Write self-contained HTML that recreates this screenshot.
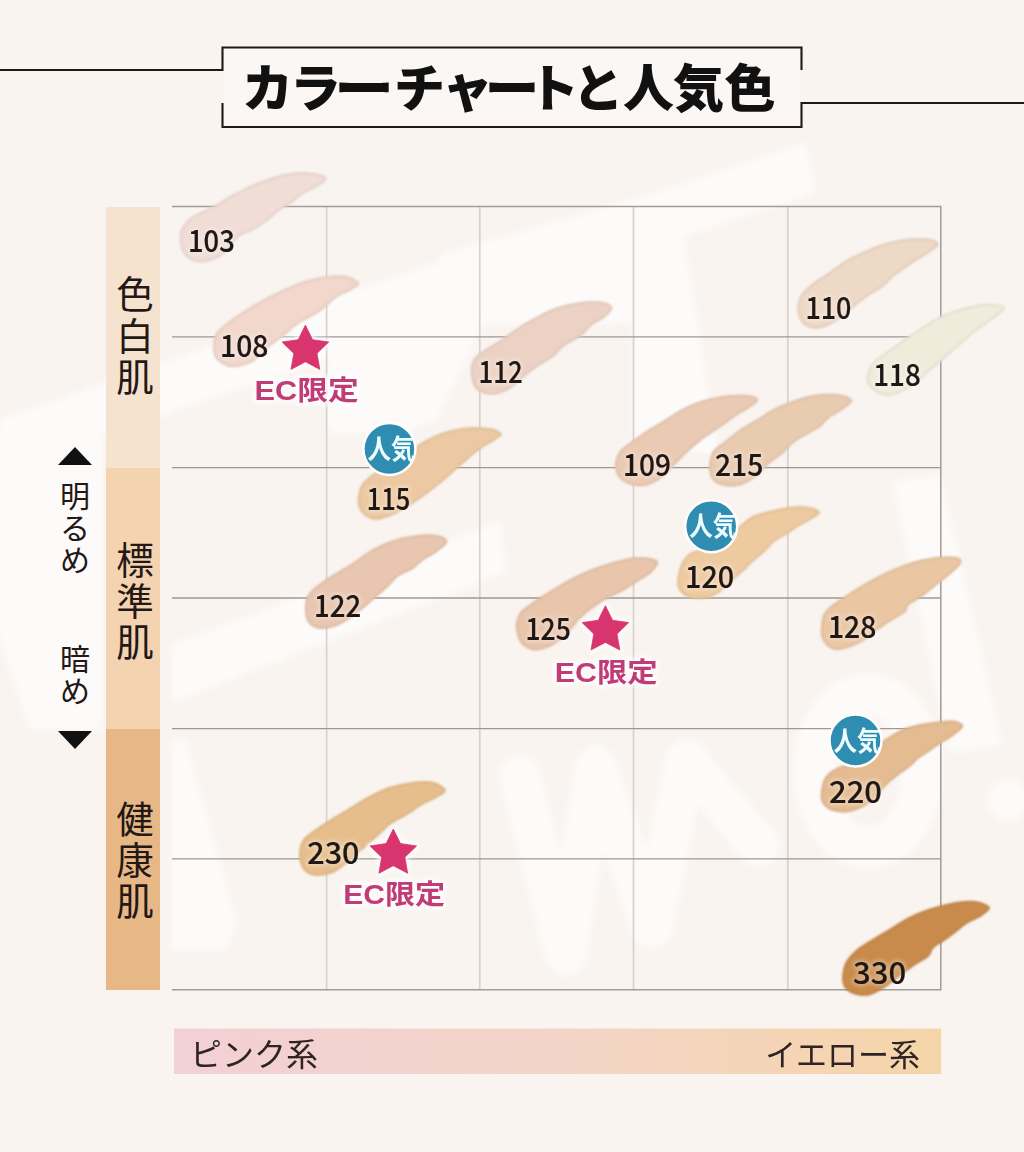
<!DOCTYPE html>
<html><head><meta charset="utf-8"><title>カラーチャートと人気色</title>
<style>
html,body{margin:0;padding:0;background:#f9f4f0;}
body{width:1024px;height:1152px;overflow:hidden;}
svg{display:block;}
text{font-family:'Liberation Sans', 'Noto Sans CJK JP', sans-serif;}
</style></head><body>
<svg width="1024" height="1152" viewBox="0 0 1024 1152">
<defs>
<filter id="soft" x="-10%" y="-10%" width="120%" height="120%"><feGaussianBlur stdDeviation="0.9"/></filter>
<filter id="glow" x="-30%" y="-30%" width="160%" height="160%"><feGaussianBlur stdDeviation="2"/></filter>
<filter id="wm" x="-10%" y="-10%" width="120%" height="120%"><feGaussianBlur stdDeviation="3"/></filter>
<linearGradient id="bar" x1="0" x2="1" y1="0" y2="0">
<stop offset="0" stop-color="#f2d0d5"/><stop offset="0.5" stop-color="#f4d4c8"/><stop offset="1" stop-color="#f5d5a8"/>
</linearGradient>
</defs>
<rect width="1024" height="1152" fill="#f9f4f0"/>

<g fill="none" stroke="#231815" stroke-width="2.1">
<path d="M0,70 H222.5 V47.5 H801.5 V70"/>
<path d="M222.5,103 V127 H801.5 V103 H1024"/>
</g>
<rect x="224" y="49" width="576" height="77" fill="#faf7f4"/>
<g font-size="51" font-weight="900" fill="#111" text-anchor="middle" style="font-family:'Noto Sans CJK JP', sans-serif">
<text x="267.5" y="107">カ</text>
<text x="315.5" y="107">ラ</text>
<text x="0" y="107" transform="translate(364,0) scale(1.17,1)">ー</text>
<text x="419.5" y="107">チ</text>
<text x="467.5" y="107">ャ</text>
<text x="0" y="107" transform="translate(512,0) scale(1.07,1)">ー</text>
<text x="553.5" y="107">ト</text>
<text x="598" y="107">と</text>
<text x="648.5" y="107">人</text>
<text x="698.5" y="107">気</text>
<text x="750" y="107">色</text>
</g>
<g fill="#ffffff" opacity="0.7" filter="url(#wm)">
<path d="M0,420 L805,143 L815,192 L0,470Z"/>
<path d="M633,200 L676,188 L712,420 L718,452 L633,452Z"/>
<path d="M440,255 L633,200 L633,322 L440,325Z"/>
<path d="M328,300 L440,262 L478,250 L480,330 L436,420 L400,432 L328,432Z"/>
<path d="M0,430 L101,400 L101,729 L30,729 L0,640Z"/>
<path d="M172,645 L500,522 L505,572 L172,702Z"/>
<path d="M172,740 L185,740 L237,925 L225,950 L172,950Z"/>
<path d="M893,482 L940,476 L1002,745 L950,752Z"/>
<circle cx="1008" cy="800" r="20"/>
</g>
<g fill="none" stroke="#ffffff" opacity="0.7" stroke-width="40" stroke-linecap="round" stroke-linejoin="round" filter="url(#wm)">
<path d="M520,777 L566,955 L596,767 L652,928 L686,760 L759,846"/>
<ellipse cx="868" cy="771" rx="54" ry="77"/>
</g>
<rect x="106" y="207" width="54" height="261" fill="#f6e3cf"/>
<rect x="106" y="468" width="54" height="261" fill="#f4d3b1"/>
<rect x="106" y="729" width="54" height="261" fill="#e8b786"/>
<g stroke="#d8d2ce" stroke-width="1.7">
<line x1="326.6" y1="206.6" x2="326.6" y2="989.8"/>
<line x1="479.8" y1="206.6" x2="479.8" y2="989.8"/>
<line x1="633.5" y1="206.6" x2="633.5" y2="989.8"/>
<line x1="787.8" y1="206.6" x2="787.8" y2="989.8"/>
</g>
<path d="M172,206.6 H940.8 V989.8 H172" stroke="#a29c98" stroke-width="1.5" fill="none"/>
<g stroke="#9e9894" stroke-width="1.3">
<line x1="172" y1="336.8" x2="940.8" y2="336.8"/>
<line x1="172" y1="467.6" x2="940.8" y2="467.6"/>
<line x1="172" y1="598" x2="940.8" y2="598"/>
<line x1="172" y1="728.6" x2="940.8" y2="728.6"/>
<line x1="172" y1="858.8" x2="940.8" y2="858.8"/>
</g>
<text x="135" y="308.3" text-anchor="middle" font-size="37.5" font-weight="400" fill="#231815" style="font-family:'Noto Sans CJK JP', sans-serif">色</text><text x="135" y="349.5" text-anchor="middle" font-size="37.5" font-weight="400" fill="#231815" style="font-family:'Noto Sans CJK JP', sans-serif">白</text><text x="135" y="390.70000000000005" text-anchor="middle" font-size="37.5" font-weight="400" fill="#231815" style="font-family:'Noto Sans CJK JP', sans-serif">肌</text>
<text x="135" y="573.6" text-anchor="middle" font-size="37.5" font-weight="400" fill="#231815" style="font-family:'Noto Sans CJK JP', sans-serif">標</text><text x="135" y="614.8000000000001" text-anchor="middle" font-size="37.5" font-weight="400" fill="#231815" style="font-family:'Noto Sans CJK JP', sans-serif">準</text><text x="135" y="656.0" text-anchor="middle" font-size="37.5" font-weight="400" fill="#231815" style="font-family:'Noto Sans CJK JP', sans-serif">肌</text>
<text x="135" y="832.6" text-anchor="middle" font-size="37.5" font-weight="400" fill="#231815" style="font-family:'Noto Sans CJK JP', sans-serif">健</text><text x="135" y="873.8000000000001" text-anchor="middle" font-size="37.5" font-weight="400" fill="#231815" style="font-family:'Noto Sans CJK JP', sans-serif">康</text><text x="135" y="915.0" text-anchor="middle" font-size="37.5" font-weight="400" fill="#231815" style="font-family:'Noto Sans CJK JP', sans-serif">肌</text>
<path d="M58,465 L75,447 L92,465Z" fill="#111"/>
<path d="M58,731 L75,749 L92,731Z" fill="#111"/>
<text x="75" y="507" text-anchor="middle" font-size="30" font-weight="400" fill="#231815" style="font-family:'Noto Sans CJK JP', sans-serif">明</text><text x="75" y="539" text-anchor="middle" font-size="30" font-weight="400" fill="#231815" style="font-family:'Noto Sans CJK JP', sans-serif">る</text><text x="75" y="571" text-anchor="middle" font-size="30" font-weight="400" fill="#231815" style="font-family:'Noto Sans CJK JP', sans-serif">め</text>
<text x="75" y="670" text-anchor="middle" font-size="30" font-weight="400" fill="#231815" style="font-family:'Noto Sans CJK JP', sans-serif">暗</text><text x="75" y="702" text-anchor="middle" font-size="30" font-weight="400" fill="#231815" style="font-family:'Noto Sans CJK JP', sans-serif">め</text>
<defs>
<clipPath id="c103"><path d="M179.7,239.1 C179.7,235.0 180.1,230.6 182.3,226.8 C184.5,223.0 187.5,219.7 192.8,216.2 C198.1,212.7 207.5,209.2 213.9,205.7 C220.3,202.2 225.6,198.3 231.5,195.1 C237.4,191.9 243.2,189.0 249.1,186.4 C255.0,183.8 260.8,181.4 266.7,179.3 C272.6,177.2 278.3,175.3 284.2,174.1 C290.1,172.9 295.9,172.3 301.8,172.3 C307.7,172.3 315.3,172.9 319.4,174.1 C323.5,175.3 326.7,177.2 326.4,179.3 C326.1,181.4 321.4,184.1 317.6,186.4 C313.8,188.8 307.7,190.8 303.6,193.4 C299.5,196.0 297.1,199.3 293.0,202.2 C288.9,205.1 283.4,207.8 279.0,211.0 C274.6,214.2 271.1,218.3 266.7,221.5 C262.3,224.7 257.3,227.7 252.6,230.3 C247.9,232.9 243.5,233.2 238.5,237.3 C233.5,241.4 228.3,250.8 222.7,254.9 C217.1,259.0 210.4,261.1 205.1,262.0 C199.8,262.9 194.9,262.0 191.1,260.2 C187.3,258.4 184.2,254.9 182.3,251.4 C180.4,247.9 179.7,243.2 179.7,239.1Z"/></clipPath>
<clipPath id="c108"><path d="M213.2,346.1 C213.5,342.6 213.6,337.6 215.8,333.8 C218.0,330.0 221.7,327.1 226.4,323.3 C231.1,319.5 238.1,314.8 243.9,311.0 C249.8,307.2 255.6,303.6 261.5,300.4 C267.4,297.2 273.2,294.4 279.1,291.6 C285.0,288.8 290.9,285.9 296.7,283.7 C302.5,281.5 308.3,279.8 314.2,278.5 C320.1,277.2 325.9,276.1 331.8,275.8 C337.7,275.5 344.9,275.4 349.4,276.7 C353.9,278.0 358.7,281.5 359.0,283.7 C359.3,285.9 354.8,287.7 351.1,289.9 C347.5,292.1 341.8,293.7 337.1,296.9 C332.4,300.1 327.7,305.7 323.0,309.2 C318.3,312.7 313.4,315.4 309.0,318.0 C304.6,320.6 301.1,321.8 296.7,325.0 C292.3,328.2 287.0,333.8 282.6,337.3 C278.2,340.8 273.8,343.2 270.3,346.1 C266.8,349.0 265.0,352.0 261.5,354.9 C258.0,357.8 254.2,361.6 249.2,363.7 C244.2,365.8 236.6,367.5 231.6,367.2 C226.6,366.9 222.2,363.9 219.3,361.9 C216.4,359.8 215.1,357.5 214.1,354.9 C213.1,352.3 212.9,349.6 213.2,346.1Z"/></clipPath>
<clipPath id="c112"><path d="M470.8,370.8 C470.8,366.1 472.0,362.0 474.3,358.5 C476.6,355.0 480.8,352.7 484.9,349.8 C489.0,346.9 493.6,344.5 498.9,341.0 C504.2,337.5 510.6,332.5 516.5,328.7 C522.4,324.9 528.2,321.3 534.1,318.1 C540.0,314.9 545.9,311.6 551.7,309.3 C557.6,307.0 563.4,305.4 569.2,304.1 C575.1,302.8 580.9,301.7 586.8,301.4 C592.7,301.1 600.1,301.3 604.4,302.3 C608.6,303.3 612.0,305.2 612.3,307.6 C612.6,310.0 609.5,313.5 606.1,316.4 C602.7,319.3 596.2,321.9 592.1,325.1 C588.0,328.3 586.2,332.2 581.5,335.7 C576.8,339.2 568.7,342.7 564.0,346.2 C559.3,349.7 557.5,353.6 553.4,356.8 C549.3,360.0 544.1,362.4 539.4,365.6 C534.7,368.8 529.7,372.6 525.3,376.1 C520.9,379.6 517.4,383.8 513.0,386.7 C508.6,389.6 503.6,392.5 498.9,393.7 C494.2,394.9 489.0,394.9 484.9,393.7 C480.8,392.5 476.6,390.5 474.3,386.7 C472.0,382.9 470.8,375.5 470.8,370.8Z"/></clipPath>
<clipPath id="c110"><path d="M797.3,309.4 C797.0,304.7 798.2,299.7 800.8,295.3 C803.4,290.9 808.4,286.8 813.1,283.0 C817.8,279.2 823.3,276.3 828.9,272.5 C834.5,268.7 840.6,263.6 846.5,260.1 C852.4,256.6 858.2,254.0 864.1,251.4 C870.0,248.8 875.9,246.2 881.7,244.3 C887.6,242.4 893.4,240.9 899.2,239.9 C905.1,238.9 910.9,238.2 916.8,238.2 C922.7,238.2 930.9,238.6 934.4,239.9 C937.9,241.2 939.4,243.6 937.9,246.1 C936.4,248.6 930.0,252.0 925.6,254.9 C921.2,257.8 915.9,260.8 911.5,263.7 C907.1,266.6 902.7,269.9 899.2,272.5 C895.7,275.1 893.0,277.2 890.4,279.5 C887.8,281.8 886.9,283.9 883.4,286.5 C879.9,289.1 874.1,292.1 869.4,295.3 C864.7,298.5 859.7,302.3 855.3,305.8 C850.9,309.3 847.4,313.2 843.0,316.4 C838.6,319.6 833.6,323.1 828.9,325.2 C824.2,327.2 819.3,329.0 814.9,328.7 C810.5,328.4 805.5,326.6 802.6,323.4 C799.7,320.2 797.6,314.1 797.3,309.4Z"/></clipPath>
<clipPath id="c118"><path d="M867.0,375.0 C867.9,371.0 870.4,365.4 873.8,361.4 C877.2,357.4 882.3,354.9 887.4,351.2 C892.5,347.5 898.7,343.3 904.4,339.3 C910.1,335.3 915.7,331.1 921.4,327.4 C927.1,323.7 932.7,320.0 938.4,317.2 C944.1,314.4 949.8,312.2 955.4,310.4 C961.0,308.5 966.6,307.2 972.3,306.1 C977.9,305.0 983.9,303.5 989.3,303.6 C994.7,303.8 1003.2,305.0 1004.6,307.0 C1006.0,309.0 1000.9,312.7 997.8,315.5 C994.7,318.3 990.2,320.9 986.0,324.0 C981.8,327.1 976.8,330.5 972.3,334.2 C967.8,337.9 963.3,342.0 958.8,346.0 C954.3,350.0 949.2,354.6 945.2,358.0 C941.2,361.4 939.0,363.1 935.0,366.5 C931.0,369.9 925.9,374.7 921.4,378.4 C916.9,382.1 912.6,385.8 907.8,388.6 C903.0,391.4 897.3,394.5 892.5,395.4 C887.7,396.2 882.9,395.4 878.9,393.7 C874.9,392.0 870.7,388.3 868.7,385.2 C866.7,382.1 866.1,379.0 867.0,375.0Z"/></clipPath>
<clipPath id="c115"><path d="M357.8,502.5 C357.5,498.3 358.3,492.1 360.0,488.0 C361.7,483.9 363.8,481.7 368.0,478.0 C372.2,474.3 378.8,469.8 385.0,466.0 C391.2,462.2 398.6,459.1 405.0,455.0 C411.4,450.9 416.9,445.4 423.4,441.6 C429.9,437.8 436.4,434.6 443.8,432.2 C451.1,429.8 459.4,428.1 467.2,427.5 C475.0,426.9 484.9,427.3 490.6,428.3 C496.3,429.3 500.8,431.8 501.6,433.8 C502.4,435.7 499.0,437.4 495.3,440.0 C491.6,442.6 485.7,445.0 479.7,449.4 C473.7,453.8 465.4,461.4 459.4,466.6 C453.4,471.8 449.0,476.2 443.8,480.6 C438.5,485.0 434.5,488.3 428.0,493.0 C421.5,497.7 411.4,504.8 404.7,508.8 C398.0,512.8 393.2,515.2 388.0,517.0 C382.8,518.8 377.7,520.4 373.4,519.7 C369.1,519.0 364.6,515.9 362.0,513.0 C359.4,510.1 358.1,506.7 357.8,502.5Z"/></clipPath>
<clipPath id="c109"><path d="M614.9,465.8 C614.9,461.4 616.5,455.9 619.3,451.8 C622.1,447.7 626.6,445.0 631.6,441.2 C636.6,437.4 643.3,432.7 649.2,428.9 C655.1,425.1 660.9,421.9 666.8,418.4 C672.7,414.9 678.5,410.7 684.4,407.8 C690.2,404.9 696.0,402.7 701.9,400.8 C707.8,398.9 713.6,397.4 719.5,396.4 C725.4,395.4 731.8,394.8 737.1,394.7 C742.4,394.6 747.6,394.6 751.1,395.5 C754.6,396.4 758.5,397.8 758.2,399.9 C757.9,401.9 753.2,405.0 749.4,407.8 C745.6,410.6 739.7,413.7 735.3,416.6 C730.9,419.5 726.8,422.8 723.0,425.4 C719.2,428.0 716.3,429.9 712.5,432.5 C708.7,435.1 704.3,438.0 700.2,441.2 C696.1,444.4 692.0,448.0 687.9,451.8 C683.8,455.6 679.7,460.0 675.6,464.1 C671.5,468.2 668.0,472.9 663.3,476.4 C658.6,479.9 652.8,483.7 647.5,485.2 C642.2,486.7 636.3,486.4 631.6,485.2 C626.9,484.0 622.1,481.3 619.3,478.1 C616.5,474.9 614.9,470.2 614.9,465.8Z"/></clipPath>
<clipPath id="c215"><path d="M709.1,467.6 C709.1,462.9 710.0,456.2 712.6,451.8 C715.2,447.4 720.2,445.0 724.9,441.2 C729.6,437.4 735.1,432.7 740.7,428.9 C746.3,425.1 752.4,421.9 758.3,418.4 C764.1,414.9 769.9,410.7 775.8,407.8 C781.6,404.9 787.5,402.9 793.4,400.8 C799.3,398.8 805.1,396.7 811.0,395.5 C816.9,394.3 823.0,393.8 828.6,393.8 C834.2,393.8 840.5,394.3 844.4,395.5 C848.3,396.7 852.6,398.4 852.3,400.8 C852.0,403.2 846.5,406.7 842.6,409.6 C838.7,412.5 832.4,415.5 828.6,418.4 C824.8,421.3 823.3,424.6 819.8,427.2 C816.3,429.8 811.9,431.6 807.5,434.2 C803.1,436.8 797.5,439.8 793.4,443.0 C789.3,446.2 787.0,450.0 782.9,453.5 C778.8,457.0 773.2,460.3 768.8,464.1 C764.4,467.9 761.2,472.9 756.5,476.4 C751.8,479.9 746.0,483.6 740.7,485.2 C735.4,486.8 729.6,486.9 724.9,486.0 C720.2,485.1 715.2,483.0 712.6,479.9 C710.0,476.8 709.1,472.3 709.1,467.6Z"/></clipPath>
<clipPath id="c120"><path d="M677.3,579.4 C677.6,575.3 679.0,569.4 680.8,565.3 C682.5,561.2 684.6,557.5 687.8,554.8 C691.0,552.1 695.4,551.1 700.1,549.0 C704.8,546.9 709.5,545.7 716.0,542.0 C722.5,538.3 732.6,530.9 738.8,526.6 C744.9,522.3 747.6,518.7 752.9,516.1 C758.2,513.5 764.5,512.3 770.4,510.8 C776.2,509.3 782.1,508.0 788.0,507.3 C793.9,506.6 800.9,506.1 805.6,506.4 C810.3,506.7 813.8,507.9 816.1,509.1 C818.5,510.3 820.6,511.8 819.7,513.5 C818.8,515.2 814.4,517.4 810.9,519.6 C807.4,521.8 802.4,524.2 798.6,526.6 C794.8,529.0 791.8,531.4 788.0,533.7 C784.2,536.1 779.5,537.8 775.7,540.7 C771.9,543.6 769.0,547.7 765.2,551.2 C761.4,554.7 756.7,558.3 752.9,561.8 C749.1,565.3 746.1,568.8 742.3,572.3 C738.5,575.8 734.1,579.4 730.0,582.9 C725.9,586.4 722.1,590.8 717.7,593.4 C713.3,596.0 708.7,598.1 703.7,598.7 C698.7,599.3 691.9,598.4 687.8,596.9 C683.7,595.4 680.9,592.8 679.1,589.9 C677.4,587.0 677.0,583.5 677.3,579.4Z"/></clipPath>
<clipPath id="c122"><path d="M304.9,607.6 C304.9,603.2 305.4,599.1 307.6,595.3 C309.8,591.5 313.7,588.3 318.1,584.8 C322.5,581.3 328.3,577.7 333.9,574.2 C339.5,570.7 345.6,567.5 351.5,563.7 C357.4,559.9 363.2,554.9 369.1,551.4 C375.0,547.9 380.9,545.0 386.7,542.6 C392.5,540.2 398.3,538.6 404.2,537.3 C410.1,536.0 415.9,535.0 421.8,534.7 C427.7,534.4 435.1,534.3 439.4,535.5 C443.6,536.7 447.6,539.1 447.3,541.7 C447.0,544.4 441.6,548.3 437.6,551.4 C433.7,554.5 427.7,557.2 423.6,560.1 C419.5,563.0 417.1,566.2 413.0,568.9 C408.9,571.5 403.1,573.1 399.0,576.0 C394.9,578.9 392.5,582.7 388.4,586.5 C384.3,590.3 379.1,594.7 374.4,598.8 C369.7,602.9 364.7,607.6 360.3,611.1 C355.9,614.6 352.4,617.3 348.0,619.9 C343.6,622.5 338.9,625.4 333.9,626.9 C328.9,628.4 322.5,629.6 318.1,628.7 C313.7,627.8 309.8,625.2 307.6,621.7 C305.4,618.2 304.9,612.0 304.9,607.6Z"/></clipPath>
<clipPath id="c125"><path d="M515.8,627.6 C515.5,622.6 516.7,617.6 519.3,613.5 C521.9,609.4 526.9,606.5 531.6,603.0 C536.3,599.5 541.9,596.0 547.5,592.5 C553.1,589.0 559.1,585.1 565.0,581.9 C570.9,578.7 576.7,575.7 582.6,573.1 C588.5,570.5 594.3,568.2 600.2,566.1 C606.1,564.0 611.9,562.3 617.8,560.8 C623.6,559.3 629.8,557.7 635.3,557.3 C640.8,556.9 647.3,557.3 651.1,558.2 C654.9,559.1 658.2,560.1 658.2,562.6 C658.2,565.1 654.6,569.9 651.1,573.1 C647.6,576.3 641.8,579.0 637.1,581.9 C632.4,584.8 627.7,588.1 623.0,590.7 C618.3,593.3 612.8,595.7 609.0,597.7 C605.2,599.8 603.7,600.6 600.2,603.0 C596.7,605.4 592.0,608.3 587.9,611.8 C583.8,615.3 579.1,620.3 575.6,624.1 C572.1,627.9 570.6,631.1 566.8,634.6 C563.0,638.1 558.0,642.6 552.7,645.2 C547.4,647.8 540.4,650.7 535.1,650.4 C529.8,650.1 524.3,647.2 521.1,643.4 C517.9,639.6 516.1,632.6 515.8,627.6Z"/></clipPath>
<clipPath id="c128"><path d="M821.0,627.9 C821.6,622.9 821.1,616.4 826.4,610.3 C831.7,604.1 845.4,596.0 852.7,591.0 C860.0,586.0 864.4,583.6 870.3,580.4 C876.2,577.2 882.0,574.2 887.9,571.6 C893.8,569.0 899.5,566.7 905.4,564.6 C911.2,562.5 917.1,560.6 923.0,559.3 C928.9,558.0 934.7,557.0 940.6,556.7 C946.5,556.4 954.8,556.4 958.2,557.6 C961.6,558.8 962.3,560.8 960.8,563.7 C959.3,566.6 953.9,571.1 949.4,575.1 C944.9,579.1 938.0,584.0 933.6,587.5 C929.2,591.0 927.1,593.3 923.0,596.2 C918.9,599.1 911.9,602.4 909.0,605.0 C906.1,607.6 908.3,609.4 905.4,612.0 C902.5,614.6 896.4,617.6 891.4,620.8 C886.4,624.0 880.6,627.9 875.6,631.4 C870.6,634.9 866.8,639.1 861.5,642.0 C856.2,644.9 849.0,647.8 844.0,649.0 C839.0,650.2 835.1,650.5 831.6,649.0 C828.1,647.5 824.6,643.7 822.8,640.2 C821.0,636.7 820.4,632.9 821.0,627.9Z"/></clipPath>
<clipPath id="c220"><path d="M820.8,792.9 C821.1,788.8 822.2,782.6 824.3,778.8 C826.3,775.0 828.7,772.8 833.1,770.0 C837.5,767.2 844.9,765.2 850.7,762.0 C856.5,758.8 862.4,754.6 868.0,751.0 C873.6,747.4 878.5,743.7 884.1,740.1 C889.7,736.5 895.9,732.2 901.7,729.6 C907.6,727.0 913.4,725.6 919.2,724.3 C925.1,723.0 930.9,722.3 936.8,721.7 C942.7,721.1 950.0,720.1 954.4,720.8 C958.8,721.5 963.2,723.8 963.2,726.1 C963.2,728.5 958.2,732.0 954.4,734.9 C950.6,737.8 944.7,740.8 940.3,743.7 C935.9,746.6 931.8,749.9 928.0,752.5 C924.2,755.1 920.4,757.2 917.5,759.5 C914.6,761.8 913.6,763.9 910.4,766.5 C907.2,769.1 902.2,772.1 898.1,775.3 C894.0,778.5 889.6,782.0 885.8,785.8 C882.0,789.6 879.1,794.6 875.3,798.1 C871.5,801.6 867.7,804.5 863.0,806.9 C858.3,809.2 852.5,811.6 847.2,812.2 C841.9,812.8 835.5,811.9 831.4,810.4 C827.3,808.9 824.4,806.3 822.6,803.4 C820.8,800.5 820.5,797.0 820.8,792.9Z"/></clipPath>
<clipPath id="c230"><path d="M299.1,854.4 C299.1,849.7 300.0,844.4 302.6,840.3 C305.2,836.2 310.2,833.3 314.9,829.8 C319.6,826.3 325.1,822.7 330.7,819.2 C336.3,815.7 342.4,812.2 348.3,808.7 C354.2,805.2 360.0,801.3 365.8,798.1 C371.6,794.9 377.5,791.6 383.4,789.3 C389.3,787.0 395.1,785.4 401.0,784.1 C406.9,782.8 413.0,781.7 418.6,781.4 C424.2,781.1 429.9,780.8 434.4,782.3 C438.9,783.8 445.5,787.6 445.8,790.2 C446.1,792.8 440.1,795.6 436.1,798.1 C432.2,800.6 426.2,802.8 422.1,805.1 C418.0,807.5 415.3,809.9 411.5,812.2 C407.7,814.6 402.7,817.2 399.2,819.2 C395.7,821.2 393.6,822.0 390.4,824.5 C387.2,827.0 383.5,830.8 380.0,834.0 C376.5,837.2 372.9,840.7 369.4,843.8 C365.9,846.9 362.9,849.1 358.8,852.6 C354.7,856.1 349.5,861.4 344.8,864.9 C340.1,868.4 336.0,872.0 330.7,873.7 C325.4,875.5 317.8,876.3 313.1,875.4 C308.4,874.5 304.9,871.9 302.6,868.4 C300.3,864.9 299.1,859.1 299.1,854.4Z"/></clipPath>
<clipPath id="c330"><path d="M842.3,976.1 C842.6,972.0 843.4,966.5 845.8,962.1 C848.1,957.7 852.0,953.6 856.4,949.8 C860.8,946.0 866.6,942.7 872.2,939.2 C877.8,935.7 883.9,932.2 889.8,928.7 C895.6,925.2 901.4,921.2 907.3,918.1 C913.1,915.0 919.0,912.4 924.9,910.2 C930.8,908.0 936.6,906.4 942.5,904.9 C948.4,903.4 954.2,902.0 960.1,901.4 C966.0,900.8 972.6,900.4 977.6,901.4 C982.6,902.4 989.3,905.1 989.9,907.6 C990.5,910.1 984.9,913.8 981.1,916.4 C977.3,919.0 970.9,921.1 967.1,923.4 C963.3,925.7 962.1,927.5 958.3,930.4 C954.5,933.3 948.3,938.1 944.2,941.0 C940.1,943.9 936.3,945.4 933.7,948.0 C931.1,950.6 931.6,953.9 928.4,956.8 C925.2,959.7 919.1,962.4 914.4,965.6 C909.7,968.8 905.0,972.6 900.3,976.1 C895.6,979.6 891.5,983.5 886.2,986.7 C880.9,989.9 874.3,994.2 868.7,995.4 C863.1,996.6 856.9,995.2 852.8,993.7 C848.7,992.2 845.9,989.6 844.1,986.7 C842.4,983.8 842.0,980.2 842.3,976.1Z"/></clipPath>
</defs>
<g filter="url(#soft)">
<path d="M179.7,239.1 C179.7,235.0 180.1,230.6 182.3,226.8 C184.5,223.0 187.5,219.7 192.8,216.2 C198.1,212.7 207.5,209.2 213.9,205.7 C220.3,202.2 225.6,198.3 231.5,195.1 C237.4,191.9 243.2,189.0 249.1,186.4 C255.0,183.8 260.8,181.4 266.7,179.3 C272.6,177.2 278.3,175.3 284.2,174.1 C290.1,172.9 295.9,172.3 301.8,172.3 C307.7,172.3 315.3,172.9 319.4,174.1 C323.5,175.3 326.7,177.2 326.4,179.3 C326.1,181.4 321.4,184.1 317.6,186.4 C313.8,188.8 307.7,190.8 303.6,193.4 C299.5,196.0 297.1,199.3 293.0,202.2 C288.9,205.1 283.4,207.8 279.0,211.0 C274.6,214.2 271.1,218.3 266.7,221.5 C262.3,224.7 257.3,227.7 252.6,230.3 C247.9,232.9 243.5,233.2 238.5,237.3 C233.5,241.4 228.3,250.8 222.7,254.9 C217.1,259.0 210.4,261.1 205.1,262.0 C199.8,262.9 194.9,262.0 191.1,260.2 C187.3,258.4 184.2,254.9 182.3,251.4 C180.4,247.9 179.7,243.2 179.7,239.1Z" fill="#f0ddd6"/>
<path d="M179.7,239.1 C179.7,235.0 180.1,230.6 182.3,226.8 C184.5,223.0 187.5,219.7 192.8,216.2 C198.1,212.7 207.5,209.2 213.9,205.7 C220.3,202.2 225.6,198.3 231.5,195.1 C237.4,191.9 243.2,189.0 249.1,186.4 C255.0,183.8 260.8,181.4 266.7,179.3 C272.6,177.2 278.3,175.3 284.2,174.1 C290.1,172.9 295.9,172.3 301.8,172.3 C307.7,172.3 315.3,172.9 319.4,174.1 C323.5,175.3 326.7,177.2 326.4,179.3 C326.1,181.4 321.4,184.1 317.6,186.4 C313.8,188.8 307.7,190.8 303.6,193.4 C299.5,196.0 297.1,199.3 293.0,202.2 C288.9,205.1 283.4,207.8 279.0,211.0 C274.6,214.2 271.1,218.3 266.7,221.5 C262.3,224.7 257.3,227.7 252.6,230.3 C247.9,232.9 243.5,233.2 238.5,237.3 C233.5,241.4 228.3,250.8 222.7,254.9 C217.1,259.0 210.4,261.1 205.1,262.0 C199.8,262.9 194.9,262.0 191.1,260.2 C187.3,258.4 184.2,254.9 182.3,251.4 C180.4,247.9 179.7,243.2 179.7,239.1Z" fill="none" stroke="#d8c6c0" stroke-width="4" opacity="0.55" clip-path="url(#c103)"/>
<path d="M213.2,346.1 C213.5,342.6 213.6,337.6 215.8,333.8 C218.0,330.0 221.7,327.1 226.4,323.3 C231.1,319.5 238.1,314.8 243.9,311.0 C249.8,307.2 255.6,303.6 261.5,300.4 C267.4,297.2 273.2,294.4 279.1,291.6 C285.0,288.8 290.9,285.9 296.7,283.7 C302.5,281.5 308.3,279.8 314.2,278.5 C320.1,277.2 325.9,276.1 331.8,275.8 C337.7,275.5 344.9,275.4 349.4,276.7 C353.9,278.0 358.7,281.5 359.0,283.7 C359.3,285.9 354.8,287.7 351.1,289.9 C347.5,292.1 341.8,293.7 337.1,296.9 C332.4,300.1 327.7,305.7 323.0,309.2 C318.3,312.7 313.4,315.4 309.0,318.0 C304.6,320.6 301.1,321.8 296.7,325.0 C292.3,328.2 287.0,333.8 282.6,337.3 C278.2,340.8 273.8,343.2 270.3,346.1 C266.8,349.0 265.0,352.0 261.5,354.9 C258.0,357.8 254.2,361.6 249.2,363.7 C244.2,365.8 236.6,367.5 231.6,367.2 C226.6,366.9 222.2,363.9 219.3,361.9 C216.4,359.8 215.1,357.5 214.1,354.9 C213.1,352.3 212.9,349.6 213.2,346.1Z" fill="#f1d7cc"/>
<path d="M213.2,346.1 C213.5,342.6 213.6,337.6 215.8,333.8 C218.0,330.0 221.7,327.1 226.4,323.3 C231.1,319.5 238.1,314.8 243.9,311.0 C249.8,307.2 255.6,303.6 261.5,300.4 C267.4,297.2 273.2,294.4 279.1,291.6 C285.0,288.8 290.9,285.9 296.7,283.7 C302.5,281.5 308.3,279.8 314.2,278.5 C320.1,277.2 325.9,276.1 331.8,275.8 C337.7,275.5 344.9,275.4 349.4,276.7 C353.9,278.0 358.7,281.5 359.0,283.7 C359.3,285.9 354.8,287.7 351.1,289.9 C347.5,292.1 341.8,293.7 337.1,296.9 C332.4,300.1 327.7,305.7 323.0,309.2 C318.3,312.7 313.4,315.4 309.0,318.0 C304.6,320.6 301.1,321.8 296.7,325.0 C292.3,328.2 287.0,333.8 282.6,337.3 C278.2,340.8 273.8,343.2 270.3,346.1 C266.8,349.0 265.0,352.0 261.5,354.9 C258.0,357.8 254.2,361.6 249.2,363.7 C244.2,365.8 236.6,367.5 231.6,367.2 C226.6,366.9 222.2,363.9 219.3,361.9 C216.4,359.8 215.1,357.5 214.1,354.9 C213.1,352.3 212.9,349.6 213.2,346.1Z" fill="none" stroke="#d8c1b7" stroke-width="4" opacity="0.55" clip-path="url(#c108)"/>
<path d="M470.8,370.8 C470.8,366.1 472.0,362.0 474.3,358.5 C476.6,355.0 480.8,352.7 484.9,349.8 C489.0,346.9 493.6,344.5 498.9,341.0 C504.2,337.5 510.6,332.5 516.5,328.7 C522.4,324.9 528.2,321.3 534.1,318.1 C540.0,314.9 545.9,311.6 551.7,309.3 C557.6,307.0 563.4,305.4 569.2,304.1 C575.1,302.8 580.9,301.7 586.8,301.4 C592.7,301.1 600.1,301.3 604.4,302.3 C608.6,303.3 612.0,305.2 612.3,307.6 C612.6,310.0 609.5,313.5 606.1,316.4 C602.7,319.3 596.2,321.9 592.1,325.1 C588.0,328.3 586.2,332.2 581.5,335.7 C576.8,339.2 568.7,342.7 564.0,346.2 C559.3,349.7 557.5,353.6 553.4,356.8 C549.3,360.0 544.1,362.4 539.4,365.6 C534.7,368.8 529.7,372.6 525.3,376.1 C520.9,379.6 517.4,383.8 513.0,386.7 C508.6,389.6 503.6,392.5 498.9,393.7 C494.2,394.9 489.0,394.9 484.9,393.7 C480.8,392.5 476.6,390.5 474.3,386.7 C472.0,382.9 470.8,375.5 470.8,370.8Z" fill="#ecd2c4"/>
<path d="M470.8,370.8 C470.8,366.1 472.0,362.0 474.3,358.5 C476.6,355.0 480.8,352.7 484.9,349.8 C489.0,346.9 493.6,344.5 498.9,341.0 C504.2,337.5 510.6,332.5 516.5,328.7 C522.4,324.9 528.2,321.3 534.1,318.1 C540.0,314.9 545.9,311.6 551.7,309.3 C557.6,307.0 563.4,305.4 569.2,304.1 C575.1,302.8 580.9,301.7 586.8,301.4 C592.7,301.1 600.1,301.3 604.4,302.3 C608.6,303.3 612.0,305.2 612.3,307.6 C612.6,310.0 609.5,313.5 606.1,316.4 C602.7,319.3 596.2,321.9 592.1,325.1 C588.0,328.3 586.2,332.2 581.5,335.7 C576.8,339.2 568.7,342.7 564.0,346.2 C559.3,349.7 557.5,353.6 553.4,356.8 C549.3,360.0 544.1,362.4 539.4,365.6 C534.7,368.8 529.7,372.6 525.3,376.1 C520.9,379.6 517.4,383.8 513.0,386.7 C508.6,389.6 503.6,392.5 498.9,393.7 C494.2,394.9 489.0,394.9 484.9,393.7 C480.8,392.5 476.6,390.5 474.3,386.7 C472.0,382.9 470.8,375.5 470.8,370.8Z" fill="none" stroke="#d4bdb0" stroke-width="4" opacity="0.55" clip-path="url(#c112)"/>
<path d="M797.3,309.4 C797.0,304.7 798.2,299.7 800.8,295.3 C803.4,290.9 808.4,286.8 813.1,283.0 C817.8,279.2 823.3,276.3 828.9,272.5 C834.5,268.7 840.6,263.6 846.5,260.1 C852.4,256.6 858.2,254.0 864.1,251.4 C870.0,248.8 875.9,246.2 881.7,244.3 C887.6,242.4 893.4,240.9 899.2,239.9 C905.1,238.9 910.9,238.2 916.8,238.2 C922.7,238.2 930.9,238.6 934.4,239.9 C937.9,241.2 939.4,243.6 937.9,246.1 C936.4,248.6 930.0,252.0 925.6,254.9 C921.2,257.8 915.9,260.8 911.5,263.7 C907.1,266.6 902.7,269.9 899.2,272.5 C895.7,275.1 893.0,277.2 890.4,279.5 C887.8,281.8 886.9,283.9 883.4,286.5 C879.9,289.1 874.1,292.1 869.4,295.3 C864.7,298.5 859.7,302.3 855.3,305.8 C850.9,309.3 847.4,313.2 843.0,316.4 C838.6,319.6 833.6,323.1 828.9,325.2 C824.2,327.2 819.3,329.0 814.9,328.7 C810.5,328.4 805.5,326.6 802.6,323.4 C799.7,320.2 797.6,314.1 797.3,309.4Z" fill="#eed8c6"/>
<path d="M797.3,309.4 C797.0,304.7 798.2,299.7 800.8,295.3 C803.4,290.9 808.4,286.8 813.1,283.0 C817.8,279.2 823.3,276.3 828.9,272.5 C834.5,268.7 840.6,263.6 846.5,260.1 C852.4,256.6 858.2,254.0 864.1,251.4 C870.0,248.8 875.9,246.2 881.7,244.3 C887.6,242.4 893.4,240.9 899.2,239.9 C905.1,238.9 910.9,238.2 916.8,238.2 C922.7,238.2 930.9,238.6 934.4,239.9 C937.9,241.2 939.4,243.6 937.9,246.1 C936.4,248.6 930.0,252.0 925.6,254.9 C921.2,257.8 915.9,260.8 911.5,263.7 C907.1,266.6 902.7,269.9 899.2,272.5 C895.7,275.1 893.0,277.2 890.4,279.5 C887.8,281.8 886.9,283.9 883.4,286.5 C879.9,289.1 874.1,292.1 869.4,295.3 C864.7,298.5 859.7,302.3 855.3,305.8 C850.9,309.3 847.4,313.2 843.0,316.4 C838.6,319.6 833.6,323.1 828.9,325.2 C824.2,327.2 819.3,329.0 814.9,328.7 C810.5,328.4 805.5,326.6 802.6,323.4 C799.7,320.2 797.6,314.1 797.3,309.4Z" fill="none" stroke="#d6c2b2" stroke-width="4" opacity="0.55" clip-path="url(#c110)"/>
<path d="M867.0,375.0 C867.9,371.0 870.4,365.4 873.8,361.4 C877.2,357.4 882.3,354.9 887.4,351.2 C892.5,347.5 898.7,343.3 904.4,339.3 C910.1,335.3 915.7,331.1 921.4,327.4 C927.1,323.7 932.7,320.0 938.4,317.2 C944.1,314.4 949.8,312.2 955.4,310.4 C961.0,308.5 966.6,307.2 972.3,306.1 C977.9,305.0 983.9,303.5 989.3,303.6 C994.7,303.8 1003.2,305.0 1004.6,307.0 C1006.0,309.0 1000.9,312.7 997.8,315.5 C994.7,318.3 990.2,320.9 986.0,324.0 C981.8,327.1 976.8,330.5 972.3,334.2 C967.8,337.9 963.3,342.0 958.8,346.0 C954.3,350.0 949.2,354.6 945.2,358.0 C941.2,361.4 939.0,363.1 935.0,366.5 C931.0,369.9 925.9,374.7 921.4,378.4 C916.9,382.1 912.6,385.8 907.8,388.6 C903.0,391.4 897.3,394.5 892.5,395.4 C887.7,396.2 882.9,395.4 878.9,393.7 C874.9,392.0 870.7,388.3 868.7,385.2 C866.7,382.1 866.1,379.0 867.0,375.0Z" fill="#f1ebdb"/>
<path d="M867.0,375.0 C867.9,371.0 870.4,365.4 873.8,361.4 C877.2,357.4 882.3,354.9 887.4,351.2 C892.5,347.5 898.7,343.3 904.4,339.3 C910.1,335.3 915.7,331.1 921.4,327.4 C927.1,323.7 932.7,320.0 938.4,317.2 C944.1,314.4 949.8,312.2 955.4,310.4 C961.0,308.5 966.6,307.2 972.3,306.1 C977.9,305.0 983.9,303.5 989.3,303.6 C994.7,303.8 1003.2,305.0 1004.6,307.0 C1006.0,309.0 1000.9,312.7 997.8,315.5 C994.7,318.3 990.2,320.9 986.0,324.0 C981.8,327.1 976.8,330.5 972.3,334.2 C967.8,337.9 963.3,342.0 958.8,346.0 C954.3,350.0 949.2,354.6 945.2,358.0 C941.2,361.4 939.0,363.1 935.0,366.5 C931.0,369.9 925.9,374.7 921.4,378.4 C916.9,382.1 912.6,385.8 907.8,388.6 C903.0,391.4 897.3,394.5 892.5,395.4 C887.7,396.2 882.9,395.4 878.9,393.7 C874.9,392.0 870.7,388.3 868.7,385.2 C866.7,382.1 866.1,379.0 867.0,375.0Z" fill="none" stroke="#d8d3c5" stroke-width="4" opacity="0.55" clip-path="url(#c118)"/>
<path d="M357.8,502.5 C357.5,498.3 358.3,492.1 360.0,488.0 C361.7,483.9 363.8,481.7 368.0,478.0 C372.2,474.3 378.8,469.8 385.0,466.0 C391.2,462.2 398.6,459.1 405.0,455.0 C411.4,450.9 416.9,445.4 423.4,441.6 C429.9,437.8 436.4,434.6 443.8,432.2 C451.1,429.8 459.4,428.1 467.2,427.5 C475.0,426.9 484.9,427.3 490.6,428.3 C496.3,429.3 500.8,431.8 501.6,433.8 C502.4,435.7 499.0,437.4 495.3,440.0 C491.6,442.6 485.7,445.0 479.7,449.4 C473.7,453.8 465.4,461.4 459.4,466.6 C453.4,471.8 449.0,476.2 443.8,480.6 C438.5,485.0 434.5,488.3 428.0,493.0 C421.5,497.7 411.4,504.8 404.7,508.8 C398.0,512.8 393.2,515.2 388.0,517.0 C382.8,518.8 377.7,520.4 373.4,519.7 C369.1,519.0 364.6,515.9 362.0,513.0 C359.4,510.1 358.1,506.7 357.8,502.5Z" fill="#ecc9a2"/>
<path d="M357.8,502.5 C357.5,498.3 358.3,492.1 360.0,488.0 C361.7,483.9 363.8,481.7 368.0,478.0 C372.2,474.3 378.8,469.8 385.0,466.0 C391.2,462.2 398.6,459.1 405.0,455.0 C411.4,450.9 416.9,445.4 423.4,441.6 C429.9,437.8 436.4,434.6 443.8,432.2 C451.1,429.8 459.4,428.1 467.2,427.5 C475.0,426.9 484.9,427.3 490.6,428.3 C496.3,429.3 500.8,431.8 501.6,433.8 C502.4,435.7 499.0,437.4 495.3,440.0 C491.6,442.6 485.7,445.0 479.7,449.4 C473.7,453.8 465.4,461.4 459.4,466.6 C453.4,471.8 449.0,476.2 443.8,480.6 C438.5,485.0 434.5,488.3 428.0,493.0 C421.5,497.7 411.4,504.8 404.7,508.8 C398.0,512.8 393.2,515.2 388.0,517.0 C382.8,518.8 377.7,520.4 373.4,519.7 C369.1,519.0 364.6,515.9 362.0,513.0 C359.4,510.1 358.1,506.7 357.8,502.5Z" fill="none" stroke="#d4b491" stroke-width="4" opacity="0.55" clip-path="url(#c115)"/>
<path d="M614.9,465.8 C614.9,461.4 616.5,455.9 619.3,451.8 C622.1,447.7 626.6,445.0 631.6,441.2 C636.6,437.4 643.3,432.7 649.2,428.9 C655.1,425.1 660.9,421.9 666.8,418.4 C672.7,414.9 678.5,410.7 684.4,407.8 C690.2,404.9 696.0,402.7 701.9,400.8 C707.8,398.9 713.6,397.4 719.5,396.4 C725.4,395.4 731.8,394.8 737.1,394.7 C742.4,394.6 747.6,394.6 751.1,395.5 C754.6,396.4 758.5,397.8 758.2,399.9 C757.9,401.9 753.2,405.0 749.4,407.8 C745.6,410.6 739.7,413.7 735.3,416.6 C730.9,419.5 726.8,422.8 723.0,425.4 C719.2,428.0 716.3,429.9 712.5,432.5 C708.7,435.1 704.3,438.0 700.2,441.2 C696.1,444.4 692.0,448.0 687.9,451.8 C683.8,455.6 679.7,460.0 675.6,464.1 C671.5,468.2 668.0,472.9 663.3,476.4 C658.6,479.9 652.8,483.7 647.5,485.2 C642.2,486.7 636.3,486.4 631.6,485.2 C626.9,484.0 622.1,481.3 619.3,478.1 C616.5,474.9 614.9,470.2 614.9,465.8Z" fill="#ebcab4"/>
<path d="M614.9,465.8 C614.9,461.4 616.5,455.9 619.3,451.8 C622.1,447.7 626.6,445.0 631.6,441.2 C636.6,437.4 643.3,432.7 649.2,428.9 C655.1,425.1 660.9,421.9 666.8,418.4 C672.7,414.9 678.5,410.7 684.4,407.8 C690.2,404.9 696.0,402.7 701.9,400.8 C707.8,398.9 713.6,397.4 719.5,396.4 C725.4,395.4 731.8,394.8 737.1,394.7 C742.4,394.6 747.6,394.6 751.1,395.5 C754.6,396.4 758.5,397.8 758.2,399.9 C757.9,401.9 753.2,405.0 749.4,407.8 C745.6,410.6 739.7,413.7 735.3,416.6 C730.9,419.5 726.8,422.8 723.0,425.4 C719.2,428.0 716.3,429.9 712.5,432.5 C708.7,435.1 704.3,438.0 700.2,441.2 C696.1,444.4 692.0,448.0 687.9,451.8 C683.8,455.6 679.7,460.0 675.6,464.1 C671.5,468.2 668.0,472.9 663.3,476.4 C658.6,479.9 652.8,483.7 647.5,485.2 C642.2,486.7 636.3,486.4 631.6,485.2 C626.9,484.0 622.1,481.3 619.3,478.1 C616.5,474.9 614.9,470.2 614.9,465.8Z" fill="none" stroke="#d3b5a2" stroke-width="4" opacity="0.55" clip-path="url(#c109)"/>
<path d="M709.1,467.6 C709.1,462.9 710.0,456.2 712.6,451.8 C715.2,447.4 720.2,445.0 724.9,441.2 C729.6,437.4 735.1,432.7 740.7,428.9 C746.3,425.1 752.4,421.9 758.3,418.4 C764.1,414.9 769.9,410.7 775.8,407.8 C781.6,404.9 787.5,402.9 793.4,400.8 C799.3,398.8 805.1,396.7 811.0,395.5 C816.9,394.3 823.0,393.8 828.6,393.8 C834.2,393.8 840.5,394.3 844.4,395.5 C848.3,396.7 852.6,398.4 852.3,400.8 C852.0,403.2 846.5,406.7 842.6,409.6 C838.7,412.5 832.4,415.5 828.6,418.4 C824.8,421.3 823.3,424.6 819.8,427.2 C816.3,429.8 811.9,431.6 807.5,434.2 C803.1,436.8 797.5,439.8 793.4,443.0 C789.3,446.2 787.0,450.0 782.9,453.5 C778.8,457.0 773.2,460.3 768.8,464.1 C764.4,467.9 761.2,472.9 756.5,476.4 C751.8,479.9 746.0,483.6 740.7,485.2 C735.4,486.8 729.6,486.9 724.9,486.0 C720.2,485.1 715.2,483.0 712.6,479.9 C710.0,476.8 709.1,472.3 709.1,467.6Z" fill="#e9cbb0"/>
<path d="M709.1,467.6 C709.1,462.9 710.0,456.2 712.6,451.8 C715.2,447.4 720.2,445.0 724.9,441.2 C729.6,437.4 735.1,432.7 740.7,428.9 C746.3,425.1 752.4,421.9 758.3,418.4 C764.1,414.9 769.9,410.7 775.8,407.8 C781.6,404.9 787.5,402.9 793.4,400.8 C799.3,398.8 805.1,396.7 811.0,395.5 C816.9,394.3 823.0,393.8 828.6,393.8 C834.2,393.8 840.5,394.3 844.4,395.5 C848.3,396.7 852.6,398.4 852.3,400.8 C852.0,403.2 846.5,406.7 842.6,409.6 C838.7,412.5 832.4,415.5 828.6,418.4 C824.8,421.3 823.3,424.6 819.8,427.2 C816.3,429.8 811.9,431.6 807.5,434.2 C803.1,436.8 797.5,439.8 793.4,443.0 C789.3,446.2 787.0,450.0 782.9,453.5 C778.8,457.0 773.2,460.3 768.8,464.1 C764.4,467.9 761.2,472.9 756.5,476.4 C751.8,479.9 746.0,483.6 740.7,485.2 C735.4,486.8 729.6,486.9 724.9,486.0 C720.2,485.1 715.2,483.0 712.6,479.9 C710.0,476.8 709.1,472.3 709.1,467.6Z" fill="none" stroke="#d1b69e" stroke-width="4" opacity="0.55" clip-path="url(#c215)"/>
<path d="M677.3,579.4 C677.6,575.3 679.0,569.4 680.8,565.3 C682.5,561.2 684.6,557.5 687.8,554.8 C691.0,552.1 695.4,551.1 700.1,549.0 C704.8,546.9 709.5,545.7 716.0,542.0 C722.5,538.3 732.6,530.9 738.8,526.6 C744.9,522.3 747.6,518.7 752.9,516.1 C758.2,513.5 764.5,512.3 770.4,510.8 C776.2,509.3 782.1,508.0 788.0,507.3 C793.9,506.6 800.9,506.1 805.6,506.4 C810.3,506.7 813.8,507.9 816.1,509.1 C818.5,510.3 820.6,511.8 819.7,513.5 C818.8,515.2 814.4,517.4 810.9,519.6 C807.4,521.8 802.4,524.2 798.6,526.6 C794.8,529.0 791.8,531.4 788.0,533.7 C784.2,536.1 779.5,537.8 775.7,540.7 C771.9,543.6 769.0,547.7 765.2,551.2 C761.4,554.7 756.7,558.3 752.9,561.8 C749.1,565.3 746.1,568.8 742.3,572.3 C738.5,575.8 734.1,579.4 730.0,582.9 C725.9,586.4 722.1,590.8 717.7,593.4 C713.3,596.0 708.7,598.1 703.7,598.7 C698.7,599.3 691.9,598.4 687.8,596.9 C683.7,595.4 680.9,592.8 679.1,589.9 C677.4,587.0 677.0,583.5 677.3,579.4Z" fill="#eecaa0"/>
<path d="M677.3,579.4 C677.6,575.3 679.0,569.4 680.8,565.3 C682.5,561.2 684.6,557.5 687.8,554.8 C691.0,552.1 695.4,551.1 700.1,549.0 C704.8,546.9 709.5,545.7 716.0,542.0 C722.5,538.3 732.6,530.9 738.8,526.6 C744.9,522.3 747.6,518.7 752.9,516.1 C758.2,513.5 764.5,512.3 770.4,510.8 C776.2,509.3 782.1,508.0 788.0,507.3 C793.9,506.6 800.9,506.1 805.6,506.4 C810.3,506.7 813.8,507.9 816.1,509.1 C818.5,510.3 820.6,511.8 819.7,513.5 C818.8,515.2 814.4,517.4 810.9,519.6 C807.4,521.8 802.4,524.2 798.6,526.6 C794.8,529.0 791.8,531.4 788.0,533.7 C784.2,536.1 779.5,537.8 775.7,540.7 C771.9,543.6 769.0,547.7 765.2,551.2 C761.4,554.7 756.7,558.3 752.9,561.8 C749.1,565.3 746.1,568.8 742.3,572.3 C738.5,575.8 734.1,579.4 730.0,582.9 C725.9,586.4 722.1,590.8 717.7,593.4 C713.3,596.0 708.7,598.1 703.7,598.7 C698.7,599.3 691.9,598.4 687.8,596.9 C683.7,595.4 680.9,592.8 679.1,589.9 C677.4,587.0 677.0,583.5 677.3,579.4Z" fill="none" stroke="#d6b590" stroke-width="4" opacity="0.55" clip-path="url(#c120)"/>
<path d="M304.9,607.6 C304.9,603.2 305.4,599.1 307.6,595.3 C309.8,591.5 313.7,588.3 318.1,584.8 C322.5,581.3 328.3,577.7 333.9,574.2 C339.5,570.7 345.6,567.5 351.5,563.7 C357.4,559.9 363.2,554.9 369.1,551.4 C375.0,547.9 380.9,545.0 386.7,542.6 C392.5,540.2 398.3,538.6 404.2,537.3 C410.1,536.0 415.9,535.0 421.8,534.7 C427.7,534.4 435.1,534.3 439.4,535.5 C443.6,536.7 447.6,539.1 447.3,541.7 C447.0,544.4 441.6,548.3 437.6,551.4 C433.7,554.5 427.7,557.2 423.6,560.1 C419.5,563.0 417.1,566.2 413.0,568.9 C408.9,571.5 403.1,573.1 399.0,576.0 C394.9,578.9 392.5,582.7 388.4,586.5 C384.3,590.3 379.1,594.7 374.4,598.8 C369.7,602.9 364.7,607.6 360.3,611.1 C355.9,614.6 352.4,617.3 348.0,619.9 C343.6,622.5 338.9,625.4 333.9,626.9 C328.9,628.4 322.5,629.6 318.1,628.7 C313.7,627.8 309.8,625.2 307.6,621.7 C305.4,618.2 304.9,612.0 304.9,607.6Z" fill="#e9c6af"/>
<path d="M304.9,607.6 C304.9,603.2 305.4,599.1 307.6,595.3 C309.8,591.5 313.7,588.3 318.1,584.8 C322.5,581.3 328.3,577.7 333.9,574.2 C339.5,570.7 345.6,567.5 351.5,563.7 C357.4,559.9 363.2,554.9 369.1,551.4 C375.0,547.9 380.9,545.0 386.7,542.6 C392.5,540.2 398.3,538.6 404.2,537.3 C410.1,536.0 415.9,535.0 421.8,534.7 C427.7,534.4 435.1,534.3 439.4,535.5 C443.6,536.7 447.6,539.1 447.3,541.7 C447.0,544.4 441.6,548.3 437.6,551.4 C433.7,554.5 427.7,557.2 423.6,560.1 C419.5,563.0 417.1,566.2 413.0,568.9 C408.9,571.5 403.1,573.1 399.0,576.0 C394.9,578.9 392.5,582.7 388.4,586.5 C384.3,590.3 379.1,594.7 374.4,598.8 C369.7,602.9 364.7,607.6 360.3,611.1 C355.9,614.6 352.4,617.3 348.0,619.9 C343.6,622.5 338.9,625.4 333.9,626.9 C328.9,628.4 322.5,629.6 318.1,628.7 C313.7,627.8 309.8,625.2 307.6,621.7 C305.4,618.2 304.9,612.0 304.9,607.6Z" fill="none" stroke="#d1b29d" stroke-width="4" opacity="0.55" clip-path="url(#c122)"/>
<path d="M515.8,627.6 C515.5,622.6 516.7,617.6 519.3,613.5 C521.9,609.4 526.9,606.5 531.6,603.0 C536.3,599.5 541.9,596.0 547.5,592.5 C553.1,589.0 559.1,585.1 565.0,581.9 C570.9,578.7 576.7,575.7 582.6,573.1 C588.5,570.5 594.3,568.2 600.2,566.1 C606.1,564.0 611.9,562.3 617.8,560.8 C623.6,559.3 629.8,557.7 635.3,557.3 C640.8,556.9 647.3,557.3 651.1,558.2 C654.9,559.1 658.2,560.1 658.2,562.6 C658.2,565.1 654.6,569.9 651.1,573.1 C647.6,576.3 641.8,579.0 637.1,581.9 C632.4,584.8 627.7,588.1 623.0,590.7 C618.3,593.3 612.8,595.7 609.0,597.7 C605.2,599.8 603.7,600.6 600.2,603.0 C596.7,605.4 592.0,608.3 587.9,611.8 C583.8,615.3 579.1,620.3 575.6,624.1 C572.1,627.9 570.6,631.1 566.8,634.6 C563.0,638.1 558.0,642.6 552.7,645.2 C547.4,647.8 540.4,650.7 535.1,650.4 C529.8,650.1 524.3,647.2 521.1,643.4 C517.9,639.6 516.1,632.6 515.8,627.6Z" fill="#e8c5ab"/>
<path d="M515.8,627.6 C515.5,622.6 516.7,617.6 519.3,613.5 C521.9,609.4 526.9,606.5 531.6,603.0 C536.3,599.5 541.9,596.0 547.5,592.5 C553.1,589.0 559.1,585.1 565.0,581.9 C570.9,578.7 576.7,575.7 582.6,573.1 C588.5,570.5 594.3,568.2 600.2,566.1 C606.1,564.0 611.9,562.3 617.8,560.8 C623.6,559.3 629.8,557.7 635.3,557.3 C640.8,556.9 647.3,557.3 651.1,558.2 C654.9,559.1 658.2,560.1 658.2,562.6 C658.2,565.1 654.6,569.9 651.1,573.1 C647.6,576.3 641.8,579.0 637.1,581.9 C632.4,584.8 627.7,588.1 623.0,590.7 C618.3,593.3 612.8,595.7 609.0,597.7 C605.2,599.8 603.7,600.6 600.2,603.0 C596.7,605.4 592.0,608.3 587.9,611.8 C583.8,615.3 579.1,620.3 575.6,624.1 C572.1,627.9 570.6,631.1 566.8,634.6 C563.0,638.1 558.0,642.6 552.7,645.2 C547.4,647.8 540.4,650.7 535.1,650.4 C529.8,650.1 524.3,647.2 521.1,643.4 C517.9,639.6 516.1,632.6 515.8,627.6Z" fill="none" stroke="#d0b199" stroke-width="4" opacity="0.55" clip-path="url(#c125)"/>
<path d="M821.0,627.9 C821.6,622.9 821.1,616.4 826.4,610.3 C831.7,604.1 845.4,596.0 852.7,591.0 C860.0,586.0 864.4,583.6 870.3,580.4 C876.2,577.2 882.0,574.2 887.9,571.6 C893.8,569.0 899.5,566.7 905.4,564.6 C911.2,562.5 917.1,560.6 923.0,559.3 C928.9,558.0 934.7,557.0 940.6,556.7 C946.5,556.4 954.8,556.4 958.2,557.6 C961.6,558.8 962.3,560.8 960.8,563.7 C959.3,566.6 953.9,571.1 949.4,575.1 C944.9,579.1 938.0,584.0 933.6,587.5 C929.2,591.0 927.1,593.3 923.0,596.2 C918.9,599.1 911.9,602.4 909.0,605.0 C906.1,607.6 908.3,609.4 905.4,612.0 C902.5,614.6 896.4,617.6 891.4,620.8 C886.4,624.0 880.6,627.9 875.6,631.4 C870.6,634.9 866.8,639.1 861.5,642.0 C856.2,644.9 849.0,647.8 844.0,649.0 C839.0,650.2 835.1,650.5 831.6,649.0 C828.1,647.5 824.6,643.7 822.8,640.2 C821.0,636.7 820.4,632.9 821.0,627.9Z" fill="#eac6a3"/>
<path d="M821.0,627.9 C821.6,622.9 821.1,616.4 826.4,610.3 C831.7,604.1 845.4,596.0 852.7,591.0 C860.0,586.0 864.4,583.6 870.3,580.4 C876.2,577.2 882.0,574.2 887.9,571.6 C893.8,569.0 899.5,566.7 905.4,564.6 C911.2,562.5 917.1,560.6 923.0,559.3 C928.9,558.0 934.7,557.0 940.6,556.7 C946.5,556.4 954.8,556.4 958.2,557.6 C961.6,558.8 962.3,560.8 960.8,563.7 C959.3,566.6 953.9,571.1 949.4,575.1 C944.9,579.1 938.0,584.0 933.6,587.5 C929.2,591.0 927.1,593.3 923.0,596.2 C918.9,599.1 911.9,602.4 909.0,605.0 C906.1,607.6 908.3,609.4 905.4,612.0 C902.5,614.6 896.4,617.6 891.4,620.8 C886.4,624.0 880.6,627.9 875.6,631.4 C870.6,634.9 866.8,639.1 861.5,642.0 C856.2,644.9 849.0,647.8 844.0,649.0 C839.0,650.2 835.1,650.5 831.6,649.0 C828.1,647.5 824.6,643.7 822.8,640.2 C821.0,636.7 820.4,632.9 821.0,627.9Z" fill="none" stroke="#d2b292" stroke-width="4" opacity="0.55" clip-path="url(#c128)"/>
<path d="M820.8,792.9 C821.1,788.8 822.2,782.6 824.3,778.8 C826.3,775.0 828.7,772.8 833.1,770.0 C837.5,767.2 844.9,765.2 850.7,762.0 C856.5,758.8 862.4,754.6 868.0,751.0 C873.6,747.4 878.5,743.7 884.1,740.1 C889.7,736.5 895.9,732.2 901.7,729.6 C907.6,727.0 913.4,725.6 919.2,724.3 C925.1,723.0 930.9,722.3 936.8,721.7 C942.7,721.1 950.0,720.1 954.4,720.8 C958.8,721.5 963.2,723.8 963.2,726.1 C963.2,728.5 958.2,732.0 954.4,734.9 C950.6,737.8 944.7,740.8 940.3,743.7 C935.9,746.6 931.8,749.9 928.0,752.5 C924.2,755.1 920.4,757.2 917.5,759.5 C914.6,761.8 913.6,763.9 910.4,766.5 C907.2,769.1 902.2,772.1 898.1,775.3 C894.0,778.5 889.6,782.0 885.8,785.8 C882.0,789.6 879.1,794.6 875.3,798.1 C871.5,801.6 867.7,804.5 863.0,806.9 C858.3,809.2 852.5,811.6 847.2,812.2 C841.9,812.8 835.5,811.9 831.4,810.4 C827.3,808.9 824.4,806.3 822.6,803.4 C820.8,800.5 820.5,797.0 820.8,792.9Z" fill="#e5bb91"/>
<path d="M820.8,792.9 C821.1,788.8 822.2,782.6 824.3,778.8 C826.3,775.0 828.7,772.8 833.1,770.0 C837.5,767.2 844.9,765.2 850.7,762.0 C856.5,758.8 862.4,754.6 868.0,751.0 C873.6,747.4 878.5,743.7 884.1,740.1 C889.7,736.5 895.9,732.2 901.7,729.6 C907.6,727.0 913.4,725.6 919.2,724.3 C925.1,723.0 930.9,722.3 936.8,721.7 C942.7,721.1 950.0,720.1 954.4,720.8 C958.8,721.5 963.2,723.8 963.2,726.1 C963.2,728.5 958.2,732.0 954.4,734.9 C950.6,737.8 944.7,740.8 940.3,743.7 C935.9,746.6 931.8,749.9 928.0,752.5 C924.2,755.1 920.4,757.2 917.5,759.5 C914.6,761.8 913.6,763.9 910.4,766.5 C907.2,769.1 902.2,772.1 898.1,775.3 C894.0,778.5 889.6,782.0 885.8,785.8 C882.0,789.6 879.1,794.6 875.3,798.1 C871.5,801.6 867.7,804.5 863.0,806.9 C858.3,809.2 852.5,811.6 847.2,812.2 C841.9,812.8 835.5,811.9 831.4,810.4 C827.3,808.9 824.4,806.3 822.6,803.4 C820.8,800.5 820.5,797.0 820.8,792.9Z" fill="none" stroke="#cea882" stroke-width="4" opacity="0.55" clip-path="url(#c220)"/>
<path d="M299.1,854.4 C299.1,849.7 300.0,844.4 302.6,840.3 C305.2,836.2 310.2,833.3 314.9,829.8 C319.6,826.3 325.1,822.7 330.7,819.2 C336.3,815.7 342.4,812.2 348.3,808.7 C354.2,805.2 360.0,801.3 365.8,798.1 C371.6,794.9 377.5,791.6 383.4,789.3 C389.3,787.0 395.1,785.4 401.0,784.1 C406.9,782.8 413.0,781.7 418.6,781.4 C424.2,781.1 429.9,780.8 434.4,782.3 C438.9,783.8 445.5,787.6 445.8,790.2 C446.1,792.8 440.1,795.6 436.1,798.1 C432.2,800.6 426.2,802.8 422.1,805.1 C418.0,807.5 415.3,809.9 411.5,812.2 C407.7,814.6 402.7,817.2 399.2,819.2 C395.7,821.2 393.6,822.0 390.4,824.5 C387.2,827.0 383.5,830.8 380.0,834.0 C376.5,837.2 372.9,840.7 369.4,843.8 C365.9,846.9 362.9,849.1 358.8,852.6 C354.7,856.1 349.5,861.4 344.8,864.9 C340.1,868.4 336.0,872.0 330.7,873.7 C325.4,875.5 317.8,876.3 313.1,875.4 C308.4,874.5 304.9,871.9 302.6,868.4 C300.3,864.9 299.1,859.1 299.1,854.4Z" fill="#e6be8c"/>
<path d="M299.1,854.4 C299.1,849.7 300.0,844.4 302.6,840.3 C305.2,836.2 310.2,833.3 314.9,829.8 C319.6,826.3 325.1,822.7 330.7,819.2 C336.3,815.7 342.4,812.2 348.3,808.7 C354.2,805.2 360.0,801.3 365.8,798.1 C371.6,794.9 377.5,791.6 383.4,789.3 C389.3,787.0 395.1,785.4 401.0,784.1 C406.9,782.8 413.0,781.7 418.6,781.4 C424.2,781.1 429.9,780.8 434.4,782.3 C438.9,783.8 445.5,787.6 445.8,790.2 C446.1,792.8 440.1,795.6 436.1,798.1 C432.2,800.6 426.2,802.8 422.1,805.1 C418.0,807.5 415.3,809.9 411.5,812.2 C407.7,814.6 402.7,817.2 399.2,819.2 C395.7,821.2 393.6,822.0 390.4,824.5 C387.2,827.0 383.5,830.8 380.0,834.0 C376.5,837.2 372.9,840.7 369.4,843.8 C365.9,846.9 362.9,849.1 358.8,852.6 C354.7,856.1 349.5,861.4 344.8,864.9 C340.1,868.4 336.0,872.0 330.7,873.7 C325.4,875.5 317.8,876.3 313.1,875.4 C308.4,874.5 304.9,871.9 302.6,868.4 C300.3,864.9 299.1,859.1 299.1,854.4Z" fill="none" stroke="#cfab7e" stroke-width="4" opacity="0.55" clip-path="url(#c230)"/>
<path d="M842.3,976.1 C842.6,972.0 843.4,966.5 845.8,962.1 C848.1,957.7 852.0,953.6 856.4,949.8 C860.8,946.0 866.6,942.7 872.2,939.2 C877.8,935.7 883.9,932.2 889.8,928.7 C895.6,925.2 901.4,921.2 907.3,918.1 C913.1,915.0 919.0,912.4 924.9,910.2 C930.8,908.0 936.6,906.4 942.5,904.9 C948.4,903.4 954.2,902.0 960.1,901.4 C966.0,900.8 972.6,900.4 977.6,901.4 C982.6,902.4 989.3,905.1 989.9,907.6 C990.5,910.1 984.9,913.8 981.1,916.4 C977.3,919.0 970.9,921.1 967.1,923.4 C963.3,925.7 962.1,927.5 958.3,930.4 C954.5,933.3 948.3,938.1 944.2,941.0 C940.1,943.9 936.3,945.4 933.7,948.0 C931.1,950.6 931.6,953.9 928.4,956.8 C925.2,959.7 919.1,962.4 914.4,965.6 C909.7,968.8 905.0,972.6 900.3,976.1 C895.6,979.6 891.5,983.5 886.2,986.7 C880.9,989.9 874.3,994.2 868.7,995.4 C863.1,996.6 856.9,995.2 852.8,993.7 C848.7,992.2 845.9,989.6 844.1,986.7 C842.4,983.8 842.0,980.2 842.3,976.1Z" fill="#c98b4b"/>
<path d="M842.3,976.1 C842.6,972.0 843.4,966.5 845.8,962.1 C848.1,957.7 852.0,953.6 856.4,949.8 C860.8,946.0 866.6,942.7 872.2,939.2 C877.8,935.7 883.9,932.2 889.8,928.7 C895.6,925.2 901.4,921.2 907.3,918.1 C913.1,915.0 919.0,912.4 924.9,910.2 C930.8,908.0 936.6,906.4 942.5,904.9 C948.4,903.4 954.2,902.0 960.1,901.4 C966.0,900.8 972.6,900.4 977.6,901.4 C982.6,902.4 989.3,905.1 989.9,907.6 C990.5,910.1 984.9,913.8 981.1,916.4 C977.3,919.0 970.9,921.1 967.1,923.4 C963.3,925.7 962.1,927.5 958.3,930.4 C954.5,933.3 948.3,938.1 944.2,941.0 C940.1,943.9 936.3,945.4 933.7,948.0 C931.1,950.6 931.6,953.9 928.4,956.8 C925.2,959.7 919.1,962.4 914.4,965.6 C909.7,968.8 905.0,972.6 900.3,976.1 C895.6,979.6 891.5,983.5 886.2,986.7 C880.9,989.9 874.3,994.2 868.7,995.4 C863.1,996.6 856.9,995.2 852.8,993.7 C848.7,992.2 845.9,989.6 844.1,986.7 C842.4,983.8 842.0,980.2 842.3,976.1Z" fill="none" stroke="#b47d43" stroke-width="4" opacity="0.55" clip-path="url(#c330)"/>
</g>
<text x="188.0" y="252.2" font-size="30.5" font-weight="500" stroke="#ffffff" stroke-width="4" stroke-linejoin="round" opacity="0.35" filter="url(#glow)" textLength="46.8" lengthAdjust="spacingAndGlyphs" fill="#ffffff" style="font-family:'Noto Sans CJK JP', sans-serif">103</text>
<text x="188.0" y="252.2" font-size="30.5" font-weight="500" stroke="#1e1714" stroke-width="0.2" textLength="46.8" lengthAdjust="spacingAndGlyphs" fill="#1e1714" style="font-family:'Noto Sans CJK JP', sans-serif">103</text>
<text x="220.0" y="356.6" font-size="30.5" font-weight="500" stroke="#ffffff" stroke-width="4" stroke-linejoin="round" opacity="0.35" filter="url(#glow)" textLength="48.4" lengthAdjust="spacingAndGlyphs" fill="#ffffff" style="font-family:'Noto Sans CJK JP', sans-serif">108</text>
<text x="220.0" y="356.6" font-size="30.5" font-weight="500" stroke="#1e1714" stroke-width="0.2" textLength="48.4" lengthAdjust="spacingAndGlyphs" fill="#1e1714" style="font-family:'Noto Sans CJK JP', sans-serif">108</text>
<text x="478.6" y="383.3" font-size="30.5" font-weight="500" stroke="#ffffff" stroke-width="4" stroke-linejoin="round" opacity="0.35" filter="url(#glow)" textLength="44.1" lengthAdjust="spacingAndGlyphs" fill="#ffffff" style="font-family:'Noto Sans CJK JP', sans-serif">112</text>
<text x="478.6" y="383.3" font-size="30.5" font-weight="500" stroke="#1e1714" stroke-width="0.2" textLength="44.1" lengthAdjust="spacingAndGlyphs" fill="#1e1714" style="font-family:'Noto Sans CJK JP', sans-serif">112</text>
<text x="805.4" y="318.5" font-size="30.5" font-weight="500" stroke="#ffffff" stroke-width="4" stroke-linejoin="round" opacity="0.35" filter="url(#glow)" textLength="46.1" lengthAdjust="spacingAndGlyphs" fill="#ffffff" style="font-family:'Noto Sans CJK JP', sans-serif">110</text>
<text x="805.4" y="318.5" font-size="30.5" font-weight="500" stroke="#1e1714" stroke-width="0.2" textLength="46.1" lengthAdjust="spacingAndGlyphs" fill="#1e1714" style="font-family:'Noto Sans CJK JP', sans-serif">110</text>
<text x="873.3" y="386.4" font-size="30.5" font-weight="500" stroke="#ffffff" stroke-width="4" stroke-linejoin="round" opacity="0.35" filter="url(#glow)" textLength="47.4" lengthAdjust="spacingAndGlyphs" fill="#ffffff" style="font-family:'Noto Sans CJK JP', sans-serif">118</text>
<text x="873.3" y="386.4" font-size="30.5" font-weight="500" stroke="#1e1714" stroke-width="0.2" textLength="47.4" lengthAdjust="spacingAndGlyphs" fill="#1e1714" style="font-family:'Noto Sans CJK JP', sans-serif">118</text>
<text x="366.8" y="509.6" font-size="30.5" font-weight="500" stroke="#ffffff" stroke-width="4" stroke-linejoin="round" opacity="0.35" filter="url(#glow)" textLength="43.6" lengthAdjust="spacingAndGlyphs" fill="#ffffff" style="font-family:'Noto Sans CJK JP', sans-serif">115</text>
<text x="366.8" y="509.6" font-size="30.5" font-weight="500" stroke="#1e1714" stroke-width="0.2" textLength="43.6" lengthAdjust="spacingAndGlyphs" fill="#1e1714" style="font-family:'Noto Sans CJK JP', sans-serif">115</text>
<text x="623.0" y="475.8" font-size="30.5" font-weight="500" stroke="#ffffff" stroke-width="4" stroke-linejoin="round" opacity="0.35" filter="url(#glow)" textLength="48.0" lengthAdjust="spacingAndGlyphs" fill="#ffffff" style="font-family:'Noto Sans CJK JP', sans-serif">109</text>
<text x="623.0" y="475.8" font-size="30.5" font-weight="500" stroke="#1e1714" stroke-width="0.2" textLength="48.0" lengthAdjust="spacingAndGlyphs" fill="#1e1714" style="font-family:'Noto Sans CJK JP', sans-serif">109</text>
<text x="715.0" y="475.8" font-size="30.5" font-weight="500" stroke="#ffffff" stroke-width="4" stroke-linejoin="round" opacity="0.35" filter="url(#glow)" textLength="48.3" lengthAdjust="spacingAndGlyphs" fill="#ffffff" style="font-family:'Noto Sans CJK JP', sans-serif">215</text>
<text x="715.0" y="475.8" font-size="30.5" font-weight="500" stroke="#1e1714" stroke-width="0.2" textLength="48.3" lengthAdjust="spacingAndGlyphs" fill="#1e1714" style="font-family:'Noto Sans CJK JP', sans-serif">215</text>
<text x="685.0" y="587.8" font-size="30.5" font-weight="500" stroke="#ffffff" stroke-width="4" stroke-linejoin="round" opacity="0.35" filter="url(#glow)" textLength="49.3" lengthAdjust="spacingAndGlyphs" fill="#ffffff" style="font-family:'Noto Sans CJK JP', sans-serif">120</text>
<text x="685.0" y="587.8" font-size="30.5" font-weight="500" stroke="#1e1714" stroke-width="0.2" textLength="49.3" lengthAdjust="spacingAndGlyphs" fill="#1e1714" style="font-family:'Noto Sans CJK JP', sans-serif">120</text>
<text x="314.0" y="617.3" font-size="30.5" font-weight="500" stroke="#ffffff" stroke-width="4" stroke-linejoin="round" opacity="0.35" filter="url(#glow)" textLength="47.1" lengthAdjust="spacingAndGlyphs" fill="#ffffff" style="font-family:'Noto Sans CJK JP', sans-serif">122</text>
<text x="314.0" y="617.3" font-size="30.5" font-weight="500" stroke="#1e1714" stroke-width="0.2" textLength="47.1" lengthAdjust="spacingAndGlyphs" fill="#1e1714" style="font-family:'Noto Sans CJK JP', sans-serif">122</text>
<text x="525.5" y="639.5" font-size="30.5" font-weight="500" stroke="#ffffff" stroke-width="4" stroke-linejoin="round" opacity="0.35" filter="url(#glow)" textLength="45.3" lengthAdjust="spacingAndGlyphs" fill="#ffffff" style="font-family:'Noto Sans CJK JP', sans-serif">125</text>
<text x="525.5" y="639.5" font-size="30.5" font-weight="500" stroke="#1e1714" stroke-width="0.2" textLength="45.3" lengthAdjust="spacingAndGlyphs" fill="#1e1714" style="font-family:'Noto Sans CJK JP', sans-serif">125</text>
<text x="827.9" y="638.3" font-size="30.5" font-weight="500" stroke="#ffffff" stroke-width="4" stroke-linejoin="round" opacity="0.35" filter="url(#glow)" textLength="48.4" lengthAdjust="spacingAndGlyphs" fill="#ffffff" style="font-family:'Noto Sans CJK JP', sans-serif">128</text>
<text x="827.9" y="638.3" font-size="30.5" font-weight="500" stroke="#1e1714" stroke-width="0.2" textLength="48.4" lengthAdjust="spacingAndGlyphs" fill="#1e1714" style="font-family:'Noto Sans CJK JP', sans-serif">128</text>
<text x="829.0" y="803.1" font-size="30.5" font-weight="500" stroke="#ffffff" stroke-width="4" stroke-linejoin="round" opacity="0.35" filter="url(#glow)" textLength="52.9" lengthAdjust="spacingAndGlyphs" fill="#ffffff" style="font-family:'Noto Sans CJK JP', sans-serif">220</text>
<text x="829.0" y="803.1" font-size="30.5" font-weight="500" stroke="#1e1714" stroke-width="0.2" textLength="52.9" lengthAdjust="spacingAndGlyphs" fill="#1e1714" style="font-family:'Noto Sans CJK JP', sans-serif">220</text>
<text x="307.3" y="864.3" font-size="30.5" font-weight="500" stroke="#ffffff" stroke-width="4" stroke-linejoin="round" opacity="0.35" filter="url(#glow)" textLength="52.2" lengthAdjust="spacingAndGlyphs" fill="#ffffff" style="font-family:'Noto Sans CJK JP', sans-serif">230</text>
<text x="307.3" y="864.3" font-size="30.5" font-weight="500" stroke="#1e1714" stroke-width="0.2" textLength="52.2" lengthAdjust="spacingAndGlyphs" fill="#1e1714" style="font-family:'Noto Sans CJK JP', sans-serif">230</text>
<text x="853.0" y="983.5" font-size="30.5" font-weight="500" stroke="#ffffff" stroke-width="4" stroke-linejoin="round" opacity="0.35" filter="url(#glow)" textLength="53.2" lengthAdjust="spacingAndGlyphs" fill="#ffffff" style="font-family:'Noto Sans CJK JP', sans-serif">330</text>
<text x="853.0" y="983.5" font-size="30.5" font-weight="500" stroke="#1e1714" stroke-width="0.2" textLength="53.2" lengthAdjust="spacingAndGlyphs" fill="#1e1714" style="font-family:'Noto Sans CJK JP', sans-serif">330</text>
<path d="M305.4,325.1 L312.6,339.7 L328.7,342.0 L317.0,353.4 L319.8,369.4 L305.4,361.8 L291.0,369.4 L293.8,353.4 L282.1,342.0 L298.2,339.7Z" fill="#fff" stroke="#fff" stroke-width="6" stroke-linejoin="round" opacity="0.8" filter="url(#glow)"/>
<path d="M305.4,325.1 L312.6,339.7 L328.7,342.0 L317.0,353.4 L319.8,369.4 L305.4,361.8 L291.0,369.4 L293.8,353.4 L282.1,342.0 L298.2,339.7Z" fill="#d8356f" stroke="#d8356f" stroke-width="0.8" stroke-linejoin="round"/>
<path d="M605.4,605.7 L612.6,620.3 L628.7,622.6 L617.0,634.0 L619.8,650.0 L605.4,642.4 L591.0,650.0 L593.8,634.0 L582.1,622.6 L598.2,620.3Z" fill="#fff" stroke="#fff" stroke-width="6" stroke-linejoin="round" opacity="0.8" filter="url(#glow)"/>
<path d="M605.4,605.7 L612.6,620.3 L628.7,622.6 L617.0,634.0 L619.8,650.0 L605.4,642.4 L591.0,650.0 L593.8,634.0 L582.1,622.6 L598.2,620.3Z" fill="#d8356f" stroke="#d8356f" stroke-width="0.8" stroke-linejoin="round"/>
<path d="M393.3,829.0 L400.5,843.6 L416.6,845.9 L404.9,857.3 L407.7,873.3 L393.3,865.7 L378.9,873.3 L381.7,857.3 L370.0,845.9 L386.1,843.6Z" fill="#fff" stroke="#fff" stroke-width="6" stroke-linejoin="round" opacity="0.8" filter="url(#glow)"/>
<path d="M393.3,829.0 L400.5,843.6 L416.6,845.9 L404.9,857.3 L407.7,873.3 L393.3,865.7 L378.9,873.3 L381.7,857.3 L370.0,845.9 L386.1,843.6Z" fill="#d8356f" stroke="#d8356f" stroke-width="0.8" stroke-linejoin="round"/>
<text x="254.6" y="399.6" font-size="27.5" font-weight="700" fill="#fff" stroke="#fff" stroke-width="6" stroke-linejoin="round" opacity="0.75" filter="url(#glow)" textLength="104.1" lengthAdjust="spacingAndGlyphs" style="font-family:'Liberation Sans', 'Noto Sans CJK JP', sans-serif">EC限定</text>
<text x="254.6" y="399.6" font-size="27.5" font-weight="700" fill="#c03c77" textLength="104.1" lengthAdjust="spacingAndGlyphs" style="font-family:'Liberation Sans', 'Noto Sans CJK JP', sans-serif">EC限定</text>
<text x="554.8" y="681.8" font-size="27.5" font-weight="700" fill="#fff" stroke="#fff" stroke-width="6" stroke-linejoin="round" opacity="0.75" filter="url(#glow)" textLength="102.9" lengthAdjust="spacingAndGlyphs" style="font-family:'Liberation Sans', 'Noto Sans CJK JP', sans-serif">EC限定</text>
<text x="554.8" y="681.8" font-size="27.5" font-weight="700" fill="#c03c77" textLength="102.9" lengthAdjust="spacingAndGlyphs" style="font-family:'Liberation Sans', 'Noto Sans CJK JP', sans-serif">EC限定</text>
<text x="343.2" y="904.3" font-size="27.5" font-weight="700" fill="#fff" stroke="#fff" stroke-width="6" stroke-linejoin="round" opacity="0.75" filter="url(#glow)" textLength="102.0" lengthAdjust="spacingAndGlyphs" style="font-family:'Liberation Sans', 'Noto Sans CJK JP', sans-serif">EC限定</text>
<text x="343.2" y="904.3" font-size="27.5" font-weight="700" fill="#c03c77" textLength="102.0" lengthAdjust="spacingAndGlyphs" style="font-family:'Liberation Sans', 'Noto Sans CJK JP', sans-serif">EC限定</text>
<circle cx="389.4" cy="448.9" r="26" fill="#2e8db0" stroke="#ffffff" stroke-width="2.5"/>
<text x="391.0" y="458.9" text-anchor="middle" font-size="27" font-weight="700" textLength="47" lengthAdjust="spacingAndGlyphs" fill="#eefcff" style="font-family:'Noto Sans CJK JP', sans-serif">人気</text>
<circle cx="711.2" cy="526.2" r="26" fill="#2e8db0" stroke="#ffffff" stroke-width="2.5"/>
<text x="712.8" y="536.2" text-anchor="middle" font-size="27" font-weight="700" textLength="47" lengthAdjust="spacingAndGlyphs" fill="#eefcff" style="font-family:'Noto Sans CJK JP', sans-serif">人気</text>
<circle cx="855.5" cy="740.6" r="26" fill="#2e8db0" stroke="#ffffff" stroke-width="2.5"/>
<text x="857.1" y="750.6" text-anchor="middle" font-size="27" font-weight="700" textLength="47" lengthAdjust="spacingAndGlyphs" fill="#eefcff" style="font-family:'Noto Sans CJK JP', sans-serif">人気</text>
<rect x="174" y="1028.5" width="767" height="45.5" fill="url(#bar)"/>
<text x="190" y="1066" font-size="32" fill="#2e2424" style="font-family:'Noto Sans CJK JP', sans-serif">ピンク系</text>
<text x="920" y="1066" text-anchor="end" font-size="31" fill="#2e2424" style="font-family:'Noto Sans CJK JP', sans-serif">イエロー系</text>
</svg></body></html>
